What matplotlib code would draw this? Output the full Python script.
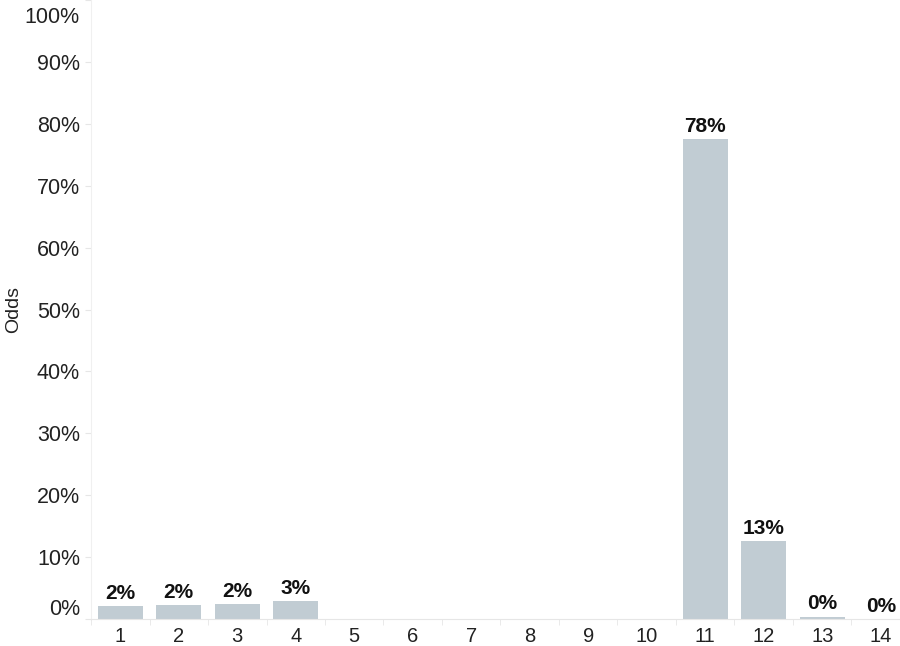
import matplotlib
matplotlib.use("Agg")
import matplotlib.pyplot as plt
import matplotlib.transforms as mtransforms
import numpy as np

# data
positions = [1, 2, 3, 4, 5, 6, 7, 8, 9, 10, 11, 12, 13, 14]
odds = [2.1, 2.3, 2.4, 2.9, 0, 0, 0, 0, 0, 0, 77.5, 12.6, 0.4, 0.0]
shown = {1: '2%', 2: '2%', 3: '2%', 4: '3%', 11: '78%', 12: '13%', 13: '0%', 14: '0%'}
yticks = [0, 10, 20, 30, 40, 50, 60, 70, 80, 90, 100]

plt.rcParams['font.family'] = ['Liberation Sans', 'DejaVu Sans']

fig = plt.figure(figsize=(9, 6.46), dpi=100)
ax = fig.add_axes([91 / 900, 27 / 646, 809 / 900, 619 / 646])

ax.bar(positions, odds, width=0.77, color='#c1ccd3', zorder=2)

for p, v in zip(positions, odds):
    if p in shown:
        ax.text(p, v + 0.5, shown[p], ha='center', va='bottom',
                fontsize=15, fontweight='bold', color='#111111')

ax.set_yticks(yticks)
ax.set_yticklabels([f'{t}%' for t in yticks])
ax.set_xticks(positions)
ax.set_xticklabels([str(p) for p in positions])
ax.set_xticks(np.arange(0.5, 15, 1), minor=True)

ax.set_xlim(0.5, 0.5 + 809 / 58.5)
ax.set_ylim(0, 100)

ax.tick_params(axis='y', length=4, color='#e6e6e6', labelsize=15.5, pad=4,
               labelcolor='#222222')
ax.tick_params(axis='x', which='major', length=0, labelsize=14.5, pad=6,
               labelcolor='#222222')
ax.tick_params(axis='x', which='minor', length=4, color='#e6e6e6')

# end labels nudged inwards like the original
labels = ax.get_yticklabels()
labels[0].set_transform(labels[0].get_transform() +
                        mtransforms.ScaledTranslation(0, 12 / 100, fig.dpi_scale_trans))
labels[-1].set_transform(labels[-1].get_transform() +
                         mtransforms.ScaledTranslation(0, -15 / 100, fig.dpi_scale_trans))

for s in ['top', 'right']:
    ax.spines[s].set_visible(False)
ax.spines['left'].set_color('#f0f0f0')
ax.spines['bottom'].set_color('#e6e6e6')

ax.set_ylabel('Odds', fontsize=14, color='#222222')
ax.yaxis.set_label_coords(-0.085, 0.5)

fig.savefig('out.png', dpi=100)
